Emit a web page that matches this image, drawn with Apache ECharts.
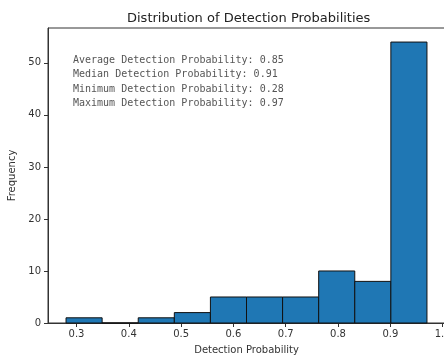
<!DOCTYPE html>
<html>
<head>
<meta charset="utf-8">
<script src="https://cdn.jsdelivr.net/npm/echarts@6/dist/echarts.min.js"></script>
<style>
html, body { margin: 0; padding: 0; background: #fff; }
#chart { width: 444px; height: 361px; }
</style>
</head>
<body>
<div id="chart"></div>
<script>
// histogram bins (10 bins between min and max probability)
var binEdges = [0.28, 0.349, 0.418, 0.487, 0.556, 0.625, 0.694, 0.763, 0.832, 0.901, 0.97];
var counts = [1, 0, 1, 2, 5, 5, 5, 10, 8, 54];
var xTicks = [0.3, 0.4, 0.5, 0.6, 0.7, 0.8, 0.9, 1.0];
var yTicks = [0, 10, 20, 30, 40, 50];
var statLines = [
    'Average Detection Probability: 0.85',
    'Median Detection Probability: 0.91',
    'Minimum Detection Probability: 0.28',
    'Maximum Detection Probability: 0.97'
];

var bars = [];
for (var i = 0; i < counts.length; i++) {
    bars.push([binEdges[i], binEdges[i + 1], counts[i]]);
}

// matplotlib-like margins
var span = binEdges[binEdges.length - 1] - binEdges[0];
var xMin = binEdges[0] - span * 0.05;
var xMax = binEdges[binEdges.length - 1] + span * 0.05;
var yMax = Math.max.apply(null, counts) * 1.05;

var myChart = echarts.init(document.getElementById('chart'));
var font = 'DejaVu Sans';

var option = {
    animation: false,
    title: {
        text: 'Distribution of Detection Probabilities',
        left: 122, top: 7,
        textStyle: { fontFamily: font, fontSize: 13, fontWeight: 'normal', color: '#222' }
    },
    grid: {
        left: 48, top: 28, width: 397, height: 295,
        outerBoundsMode: 'none', containLabel: false,
        show: true, borderColor: '#333', borderWidth: 1, backgroundColor: 'transparent'
    },
    xAxis: {
        type: 'value', min: xMin, max: xMax,
        name: 'Detection Probability', nameLocation: 'middle', nameGap: 22,
        nameTextStyle: { fontFamily: font, fontSize: 10, color: '#333' },
        axisLine: { show: true, onZero: false, lineStyle: { color: '#333' } },
        axisTick: { show: true, length: 4, customValues: xTicks, lineStyle: { color: '#333' } },
        axisLabel: {
            customValues: xTicks, fontFamily: font, fontSize: 10, color: '#333', margin: 6,
            hideOverlap: false,
            formatter: function (v) { return v.toFixed(1); }
        },
        splitLine: { show: false }
    },
    yAxis: {
        type: 'value', min: 0, max: yMax,
        name: 'Frequency', nameLocation: 'middle', nameGap: 31,
        nameTextStyle: { fontFamily: font, fontSize: 10, color: '#333' },
        axisLine: { show: true, lineStyle: { color: '#333' } },
        axisTick: { show: true, length: 4, customValues: yTicks, lineStyle: { color: '#333' } },
        axisLabel: { customValues: yTicks, fontFamily: font, fontSize: 10, color: '#333', margin: 7 },
        splitLine: { show: false }
    },
    graphic: [{
        type: 'text', left: 73, top: 53,
        style: {
            text: statLines.join('\n'),
            fontFamily: 'DejaVu Sans Mono', fontSize: 10, lineHeight: 14.5,
            fill: '#555'
        }
    }],
    series: [{
        type: 'custom',
        data: bars,
        encode: { x: [0, 1], y: 2 },
        renderItem: function (params, api) {
            var p0 = api.coord([api.value(0), 0]);
            var p1 = api.coord([api.value(1), api.value(2)]);
            return {
                type: 'rect',
                shape: { x: p0[0], y: p1[1], width: p1[0] - p0[0], height: p0[1] - p1[1] },
                style: { fill: '#1f77b4', stroke: '#111', lineWidth: 1 }
            };
        }
    }]
};

myChart.setOption(option);
</script>
</body>
</html>
